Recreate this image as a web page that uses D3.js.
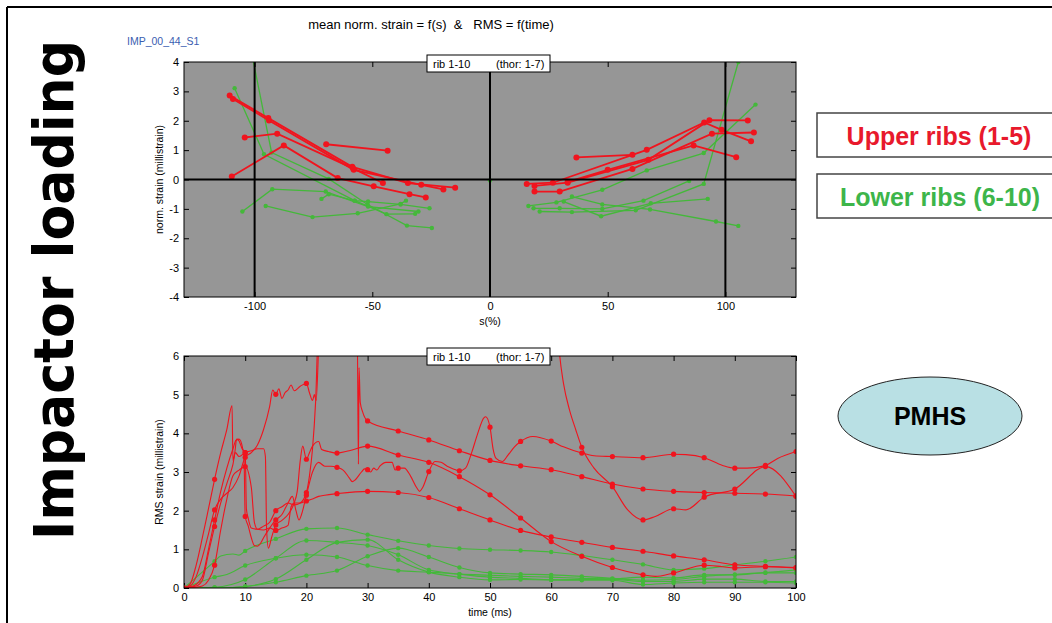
<!DOCTYPE html>
<html><head><meta charset="utf-8">
<script src="https://cdn.jsdelivr.net/npm/d3@7"></script>
<style>body{margin:0;background:#fff}svg{display:block}text{font-family:"Liberation Sans",Arial,sans-serif}</style>
</head><body>
<svg id="c" width="1052" height="623"></svg>
<script>
// ---------- DATA ----------
const sTicks = [-100, -50, 0, 50, 100];
const strainTicks = [-4, -3, -2, -1, 0, 1, 2, 3, 4];
const timeTicks = [0, 10, 20, 30, 40, 50, 60, 70, 80, 90, 100];
const rmsTicks = [0, 1, 2, 3, 4, 5, 6];

// mean norm. strain vs s(%) — upper ribs (red), left side
const upperLeft = [
  [[-110.6,2.86],[-94.2,2.09],[-58.5,0.43],[-34.9,-0.12],[-14.8,-0.28]],
  [[-109.2,2.74],[-93.9,2.01],[-57.9,0.33],[-29.2,-0.18],[-19.8,-0.34]],
  [[-104.2,1.43],[-90.4,1.56],[-58.2,0.38],[-45.5,-0.12]],
  [[-109.7,0.10],[-87.6,1.16],[-64.7,0.05],[-49.4,-0.23],[-34.2,-0.50],[-27.3,-0.61]],
  [[-69.6,1.20],[-43.5,0.98]]
];
const upperRight = [
  [[15.6,-0.15],[26.7,-0.11],[66.6,1.01],[91.0,1.94],[98.4,1.69],[110.9,1.30]],
  [[18.9,-0.22],[33.0,-0.11],[67.3,0.67],[93.2,2.02],[109.5,2.01]],
  [[18.9,-0.41],[29.6,-0.41],[60.5,0.36],[94.3,1.56],[112.1,1.60]],
  [[36.7,0.75],[60.5,0.84]],
  [[33.0,-0.08],[50.0,0.33],[86.5,1.16],[104.6,0.76]]
];
// lower ribs (green)
const lowerLeft = [
  [[-108.5,3.11],[-96.0,0.86],[-57.5,-0.72],[-44.0,-1.18],[-31.8,-1.17]],
  [[-103.0,5.0],[-92.8,0.92],[-68.5,0.02],[-52.0,-0.85],[-35.3,-1.57],[-24.7,-1.65]],
  [[-105.2,-1.09],[-92.5,-0.33],[-69.8,-0.41],[-51.8,-0.92],[-30.4,-1.09]],
  [[-95.3,-0.90],[-75.4,-1.28],[-56.2,-1.15],[-38.0,-0.83],[-35.7,-0.72]],
  [[-71.6,-0.66],[-68.5,-0.50],[-57.5,-0.72],[-51.8,-0.75],[-38.0,-0.85],[-25.7,-0.98]],
  [[0,-0.03]]
];
const lowerRight = [
  [[16.3,-0.90],[28.2,-0.78],[47.7,-0.35],[66.6,0.31],[90.8,0.90],[112.8,2.55]],
  [[18.5,-0.98],[29.6,-0.98],[47.7,-1.00],[65.2,-0.72],[84.6,-0.05]],
  [[21.1,-1.09],[34.8,-1.11],[61.9,-1.05],[90.8,-0.15],[105.5,4.0]],
  [[31.3,-0.75],[47.2,-1.25],[68.3,-0.81],[92.5,-0.66]],
  [[34.8,-0.58],[47.7,-0.85],[68.0,-1.02],[96.0,-1.43],[105.5,-1.58]]
];

// RMS strain vs time (ms) — upper ribs (red)
const rmsUpper = [
  [[0,0],[1,0.05],[2,0.3],[3,0.8],[4,1.4],[5,2.02],[6,2.3],[7,2.45],[8,2.6],[9,2.9],[10,3.38],[11,3.5],[12,3.7],[13,4.1],[14,4.7],[14.5,5.12],[15,5.01],[15.5,5.15],[16,4.9],[16.5,5.05],[17,5.12],[17.5,5.25],[18,5.1],[19,5.22],[20,5.29],[20.5,5.05],[21,4.85],[21.3,5.0],[21.6,4.85],[22.2,6.8],[28.3,6.8],[28.5,3.2],[28.6,5.7],[28.8,4.8],[29.2,4.55],[30,4.32],[35,4.06],[40,3.83],[45,3.55],[50,3.30],[55,3.16],[60,3.06],[65,2.88],[70,2.69],[75,2.56],[80,2.50],[85,2.47],[90,2.45],[95,2.43],[100,2.38]],
  [[0,0],[1,0.1],[2,0.6],[3,1.3],[4,2.05],[5,2.81],[6,3.5],[7,4.1],[7.85,4.72],[8.0,3.3],[8.3,3.5],[8.6,3.85],[9,3.8],[9.5,3.6],[10,3.5],[10.2,2.04],[10.5,1.8],[11,1.55],[12,1.52],[13,1.6],[14,1.7],[15,2.0],[16,2.1],[17,2.2],[18,2.15],[19,2.2],[20,2.47],[20.5,2.9],[21,3.6],[21.5,4.8],[22,6.8],[61,6.8],[61.4,6.0],[62,5.3],[63,4.6],[64,4.1],[65,3.64],[67,3.1],[70,2.62],[72.5,2.02],[75,1.76],[77,1.85],[80,2.05],[82,2.02],[85,2.35],[90,2.56],[95,3.14],[100,2.37]],
  [[0,0],[1.5,0.05],[3,0.3],[4,1.0],[5,1.76],[6,2.5],[7,3.1],[8,3.6],[8.5,3.82],[9,3.85],[9.6,3.6],[9.8,3.4],[10,1.85],[10.5,1.6],[11,1.3],[11.5,1.1],[12,1.08],[12.5,1.15],[13,1.3],[14,1.55],[15,1.76],[16,1.9],[17,2.2],[17.7,2.37],[18.3,2.0],[18.8,1.76],[19.2,1.9],[20,2.4],[21,3.0],[22,3.25],[23,3.15],[24,3.15],[25,3.12],[26,3.05],[27,2.85],[27.5,2.75],[28,2.8],[29,3.0],[29.5,3.08],[30,3.06],[30.5,3.0],[31,3.1],[31.5,3.05],[32,3.15],[33,3.25],[34,3.25],[34.5,3.05],[35,3.1],[36,3.1],[37,2.9],[38,2.6],[38.5,2.5],[39,2.6],[40,3.01],[41,3.27],[42,3.25],[43,3.15],[44,3.08],[45,3.03],[46,3.1],[47,3.5],[48,4.0],[49,4.4],[49.3,4.43],[50,4.16],[50.5,3.6],[51,3.35],[52,3.27],[53,3.45],[54,3.65],[55,3.79],[57,3.92],[60,3.80],[62,3.65],[65,3.49],[67,3.42],[70,3.40],[75,3.37],[80,3.46],[82,3.45],[85,3.37],[88,3.17],[90,3.10],[92,3.10],[95,3.17],[97,3.35],[100,3.53]],
  [[0,0],[2,0.05],[3,0.2],[4,0.9],[5,1.59],[6,2.2],[7,2.7],[8,3.2],[8.4,3.5],[9,3.4],[10,3.5],[11,3.55],[12,3.6],[13,3.6],[13.3,3.4],[13.5,1.5],[13.8,1.03],[14.3,1.3],[15,1.63],[16,1.75],[17,1.9],[18,2.2],[18.5,2.5],[19,3.3],[19.4,3.67],[20,3.33],[20.5,3.5],[21,3.67],[22,3.79],[22.5,3.58],[23.6,3.53],[25,3.49],[27,3.55],[30,3.67],[35,3.44],[40,3.25],[45,2.88],[50,2.41],[55,1.81],[60,1.2],[65,0.82],[70,0.53],[75,0.34],[77,0.3],[80,0.39],[85,0.59],[88,0.55],[90,0.52],[95,0.55],[100,0.52]],
  [[0,0],[2,0.02],[3,0.05],[4,0.2],[5,0.59],[6,1.5],[7,2.3],[8,2.9],[9,3.05],[10,3.14],[11,2.6],[11.5,1.7],[12,1.52],[13,1.5],[14,1.55],[15,1.49],[16,1.55],[17,1.62],[17.5,2.1],[18,2.2],[19,2.2],[20,2.25],[21,2.3],[22,2.37],[23,2.4],[25,2.44],[30,2.5],[35,2.47],[40,2.34],[45,2.05],[50,1.76],[55,1.49],[60,1.32],[65,1.18],[70,1.05],[75,0.95],[80,0.83],[85,0.73],[90,0.6],[95,0.56],[100,0.53]]
];
// lower ribs (green)
const rmsLower = [
  [[0,0],[5,0.69],[6,0.83],[8,0.88],[9,0.85],[10,0.96],[15,1.27],[20,1.53],[25,1.55],[30,1.38],[35,1.22],[40,1.1],[45,1.02],[50,0.99],[55,0.97],[60,0.93],[65,0.84],[70,0.73],[75,0.61],[80,0.47],[85,0.5],[90,0.6],[95,0.69],[100,0.8]],
  [[0,0],[5,0.28],[7,0.35],[10,0.58],[15,0.77],[20,0.86],[25,0.8],[30,0.58],[35,0.45],[40,0.41],[45,0.36],[50,0.33],[55,0.3],[60,0.28],[65,0.25],[70,0.23],[75,0.17],[80,0.17],[85,0.23],[90,0.23],[95,0.17],[100,0.17]],
  [[0,0],[5,0.02],[10,0.22],[15,0.77],[20,1.23],[25,1.18],[30,1.1],[35,0.86],[40,0.47],[45,0.36],[50,0.28],[55,0.25],[60,0.21],[65,0.2],[70,0.2],[75,0.09],[80,0.13],[85,0.15],[90,0.15],[95,0.15],[100,0.13]],
  [[0,0],[5,0],[10,0.04],[15,0.23],[20,0.73],[25,1.18],[30,1.25],[35,0.73],[40,0.41],[45,0.28],[50,0.21],[55,0.22],[60,0.21],[65,0.22],[70,0.23],[75,0.28],[80,0.26],[85,0.34],[90,0.34],[95,0.39],[100,0.39]],
  [[0,0],[5,0],[10,0.04],[15,0.15],[20,0.32],[25,0.45],[30,0.82],[35,1.03],[40,0.8],[45,0.53],[50,0.39],[55,0.36],[60,0.34],[65,0.3],[70,0.25],[75,0.2],[80,0.22],[85,0.3],[90,0.35],[95,0.4],[100,0.47]]
];

// ---------- DRAW ----------
const RED = "#f0141e", GREEN = "#44b83a", BG = "#969696";
const svg = d3.select("#c");
const fmt = d => String(d);

// outer frame
svg.append("line").attr("x1",7).attr("y1",7).attr("x2",1052).attr("y2",7).attr("stroke","#000").attr("stroke-width",2);
svg.append("line").attr("x1",7).attr("y1",7).attr("x2",7).attr("y2",623).attr("stroke","#000").attr("stroke-width",2);

// side label
svg.append("text").attr("transform","translate(73,290) rotate(-90)")
  .attr("text-anchor","middle").style("font-family","'DejaVu Sans',sans-serif")
  .style("font-weight","bold").style("font-size","56px")
  .attr("textLength",500).attr("lengthAdjust","spacingAndGlyphs")
  .text("Impactor loading");

svg.append("text").attr("x",431).attr("y",29).attr("text-anchor","middle").style("font-size","13px").style("white-space","pre").text("mean norm. strain = f(s)  &   RMS = f(time)");
svg.append("text").attr("x",127).attr("y",45).style("font-size","10.5px").attr("fill","#3a5db0").text("IMP_00_44_S1");

function panel(x, y, xTicks, yTicks, xLabel, yLabel, id, boxY) {
  const [x0,x1] = x.range(), [y0,y1] = y.range();
  const g = svg.append("g");
  svg.append("clipPath").attr("id",id).append("rect").attr("x",x0).attr("y",y1).attr("width",x1-x0).attr("height",y0-y1);
  g.append("rect").attr("x",x0).attr("y",y1).attr("width",x1-x0).attr("height",y0-y1).attr("fill",BG);
  const ax = g.append("g").attr("transform",`translate(0,${y0})`).call(d3.axisBottom(x).tickValues(xTicks).tickFormat(fmt).tickSizeInner(-5).tickSizeOuter(0).tickPadding(5));
  const at = g.append("g").attr("transform",`translate(0,${y1})`).call(d3.axisTop(x).tickValues(xTicks).tickSizeInner(-5).tickSizeOuter(0).tickFormat(""));
  const ay = g.append("g").attr("transform",`translate(${x0},0)`).call(d3.axisLeft(y).tickValues(yTicks).tickFormat(fmt).tickSizeInner(-5).tickSizeOuter(0).tickPadding(5));
  const ar = g.append("g").attr("transform",`translate(${x1},0)`).call(d3.axisRight(y).tickValues(yTicks).tickSizeInner(-5).tickSizeOuter(0).tickFormat(""));
  [ax,at,ay,ar].forEach(a=>{a.select(".domain").remove();a.selectAll("text").style("font-size","11px").style("font-family","'Liberation Sans',Arial,sans-serif").attr("fill","#000");a.selectAll("line").attr("stroke","#000");});
  svg.append("text").attr("x",(x0+x1)/2).attr("y",y0+28).attr("text-anchor","middle").style("font-size","10.5px").text(xLabel);
  svg.append("text").attr("transform",`translate(163,${(y0+y1)/2}) rotate(-90)`).attr("text-anchor","middle").style("font-size","10.5px").text(yLabel);
  const plot = svg.append("g").attr("clip-path",`url(#${id})`);
  const over = svg.append("g");
  return {plot, over, g, frame: ()=>{
    over.append("rect").attr("x",x0).attr("y",y1).attr("width",x1-x0).attr("height",y0-y1).attr("fill","none").attr("stroke","#000").attr("stroke-width",1);
    const bx = over.append("g");
    bx.append("rect").attr("x",427).attr("y",boxY).attr("width",123).attr("height",17).attr("fill","#fff").attr("stroke","#000").attr("stroke-width",1);
    bx.append("text").attr("x",433).attr("y",boxY+13).style("font-size","11px").text("rib 1-10");
    bx.append("text").attr("x",496).attr("y",boxY+13).style("font-size","11px").text("(thor: 1-7)");
  }};
}

// top panel
const xs = d3.scaleLinear().domain([-130,130]).range([184,796]);
const ys = d3.scaleLinear().domain([-4,4]).range([297,62]);
const P1 = panel(xs, ys, sTicks, strainTicks, "s(%)", "norm. strain (millistrain)", "clip1", 55);
const lineS = d3.line().x(d=>xs(d[0])).y(d=>ys(d[1]));
function drawS(series, color, w, r) {
  series.forEach(s=>{
    P1.plot.append("path").attr("d",lineS(s)).attr("fill","none").attr("stroke",color).attr("stroke-width",w);
    P1.plot.selectAll(null).data(s).join("circle").attr("cx",d=>xs(d[0])).attr("cy",d=>ys(d[1])).attr("r",r).attr("fill",color);
  });
}
drawS(lowerLeft, GREEN, 1.3, 2.2);
drawS(lowerRight, GREEN, 1.3, 2.2);
drawS(upperLeft, RED, 1.8, 3);
drawS(upperRight, RED, 1.8, 3);
// reference lines
[-100,0,100].forEach(v=>P1.plot.append("line").attr("x1",xs(v)).attr("x2",xs(v)).attr("y1",ys(4)).attr("y2",ys(-4)).attr("stroke","#000").attr("stroke-width",2));
P1.plot.append("line").attr("x1",xs(-130)).attr("x2",xs(130)).attr("y1",ys(0)).attr("y2",ys(0)).attr("stroke","#000").attr("stroke-width",2);
P1.frame();

// bottom panel
const xt = d3.scaleLinear().domain([0,100]).range([184,796]);
const yt = d3.scaleLinear().domain([0,6]).range([588,356]);
const P2 = panel(xt, yt, timeTicks, rmsTicks, "time (ms)", "RMS strain (millistrain)", "clip2", 348);
const lineT = d3.line().x(d=>xt(d[0])).y(d=>yt(d[1])).curve(d3.curveMonotoneX);
function drawT(series, color, r) {
  series.forEach(s=>{
    P2.plot.append("path").attr("d",lineT(s)).attr("fill","none").attr("stroke",color).attr("stroke-width",1.1);
    P2.plot.selectAll(null).data(s.filter(d=>d[0]%5===0)).join("circle").attr("cx",d=>xt(d[0])).attr("cy",d=>yt(d[1])).attr("r",r).attr("fill",color);
  });
}
drawT(rmsLower, GREEN, 2.2);
drawT(rmsUpper, RED, 2.6);
P2.frame();

// legend boxes
const leg = svg.append("g");
leg.append("rect").attr("x",817).attr("y",113).attr("width",250).attr("height",44).attr("fill","#fff").attr("stroke","#444").attr("stroke-width",1.5);
leg.append("rect").attr("x",817).attr("y",174).attr("width",250).attr("height",44).attr("fill","#fff").attr("stroke","#444").attr("stroke-width",1.5);
leg.append("text").attr("x",939).attr("y",145).attr("text-anchor","middle").attr("fill","#e8192c").style("font-weight","bold").style("font-size","25px").text("Upper ribs (1-5)");
leg.append("text").attr("x",940).attr("y",206).attr("text-anchor","middle").attr("fill","#3db54a").style("font-weight","bold").style("font-size","25px").text("Lower ribs (6-10)");

// PMHS
svg.append("ellipse").attr("cx",930).attr("cy",416).attr("rx",92).attr("ry",39).attr("fill","#b9e0e4").attr("stroke","#222").attr("stroke-width",1);
svg.append("text").attr("x",930).attr("y",425).attr("text-anchor","middle").style("font-weight","bold").style("font-size","25px").text("PMHS");
</script>
</body></html>
